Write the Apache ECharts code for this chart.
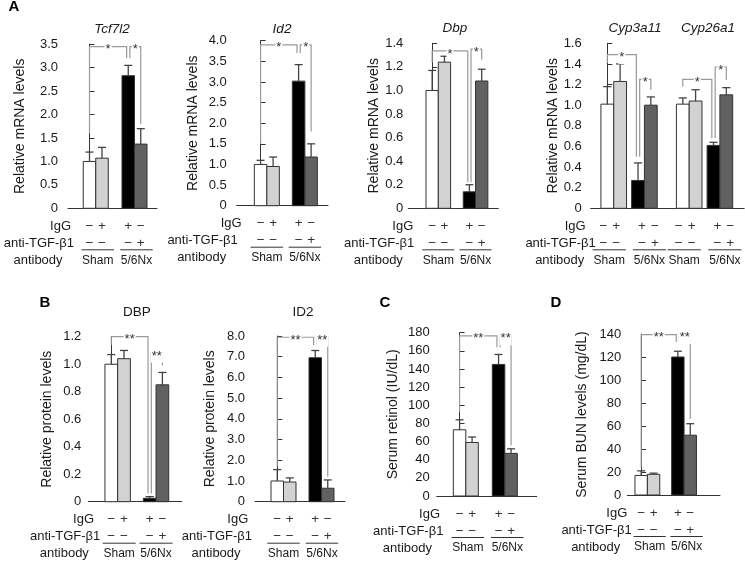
<!DOCTYPE html>
<html><head><meta charset="utf-8">
<script src="https://cdn.jsdelivr.net/npm/echarts@6/dist/echarts.min.js"></script>
<style>html,body{margin:0;padding:0;background:#fff}#c{width:745px;height:562px}</style>
</head><body><div id="c"></div>
<script>
const FONT = '"Liberation Sans", Arial, Helvetica, sans-serif';

// ---------------- data ----------------
const conditionIgG  = ['\u2212', '+', '+', '\u2212'];
const conditionAnti = ['\u2212', '\u2212', '\u2212', '+'];
const groupNames = ['Sham', '5/6Nx'];

// bracket: [fromBar, toBar, height, leftLegEnd, rightLegEnd, mark]
const tcf7l2Values = [1.00, 1.07, 2.83, 1.37];
const tcf7l2Errors = [0.20, 0.23, 0.22, 0.33];
const tcf7l2Brackets = [[0, 2, 3.45, 1.60, 3.20, '*'], [2, 3, 3.45, 3.20, 1.80, '*']];

const id2Values = [1.00, 0.95, 3.02, 1.18];
const id2Errors = [0.10, 0.23, 0.40, 0.32];
const id2Brackets = [[0, 2, 3.90, 1.50, 3.70, '*'], [2, 3, 3.90, 3.70, 1.80, '*']];

const dbpValues = [1.00, 1.24, 0.14, 1.08];
const dbpErrors = [0.17, 0.05, 0.06, 0.10];
const dbpBrackets = [[0, 2, 1.335, 1.24, 0.22, '*'], [2, 3, 1.35, 0.22, 1.26, '*']];

const cyp3a11Values = [1.01, 1.23, 0.27, 1.00];
const cyp3a11Errors = [0.17, 0.17, 0.17, 0.08];
const cyp3a11Brackets = [[0, 2, 1.49, 1.41, 0.50, '*'], [2, 3, 1.25, 0.50, 1.15, '*']];

const cyp26a1Values = [1.01, 1.04, 0.61, 1.10];
const cyp26a1Errors = [0.06, 0.11, 0.03, 0.07];
const cyp26a1Brackets = [[0, 2, 1.25, 1.18, 0.68, '*'], [2, 3, 1.37, 0.68, 1.245, '*']];

const dbpProteinValues = [1.00, 1.04, 0.025, 0.85];
const dbpProteinErrors = [0.07, 0.06, 0.012, 0.09];
const dbpProteinBrackets = [[0, 2, 1.20, 1.14, 0.06, '**'], [2, 3, 1.08, 0.06, 0.99, '**']];

const id2ProteinValues = [1.00, 0.95, 6.95, 0.65];
const id2ProteinErrors = [0.55, 0.20, 0.35, 0.40];
const id2ProteinBrackets = [[0, 2, 7.94, 1.70, 7.55, '**'], [2, 3, 7.94, 7.55, 1.20, '**']];

const retinolValues = [73, 59, 145, 47];
const retinolErrors = [11, 6, 11, 5];
const retinolBrackets = [[0, 2, 176.5, 93, 164, '**'], [2, 3, 176.5, 164, 56, '**']];

const bunValues = [17, 18, 120, 52];
const bunErrors = [4, 1, 5, 10];
const bunBrackets = [[0, 2, 139.5, 24, 133, '**'], [2, 3, 139.5, 133, 66, '**']];

const geneTitles = [
  {text: 'Tcf7l2', x: 112, y: 29, italic: true},
  {text: 'Id2', x: 282, y: 29, italic: true},
  {text: 'Dbp', x: 455, y: 28, italic: true},
  {text: 'Cyp3a11', x: 635, y: 28, italic: true},
  {text: 'Cyp26a1', x: 708, y: 28, italic: true},
  {text: 'DBP', x: 137, y: 312, italic: false},
  {text: 'ID2', x: 303, y: 312, italic: false}
];
const panelLetters = [
  {text: 'A', x: 14, y: 7}, {text: 'B', x: 45, y: 303},
  {text: 'C', x: 385, y: 303}, {text: 'D', x: 556, y: 303}
];

// ---------------- layout ----------------
const BAR_FILLS = ['#ffffff', '#d2d2d2', '#000000', '#616161'];
const mRNA = 'Relative mRNA levels', prot = 'Relative protein levels';
const panels = [
  {values: tcf7l2Values, errors: tcf7l2Errors, brackets: tcf7l2Brackets, yMax: 3.5, yStep: 0.5, dec: 1, yName: mRNA,
   box: [68, 44.3, 89, 164], xRange: [-1.72, 5.4], pair: 3.1, gene: 0, nameGap: 41, labelMargin: 10, igDx: 3, antiDx: 6,
   groupDx: [2, 2], signDx: [0, 0]},
  {values: id2Values, errors: id2Errors, brackets: id2Brackets, yMax: 4, yStep: 0.5, dec: 1, yName: mRNA,
   box: [236.7, 40.7, 91.3, 165], xRange: [-1.91, 5.39], pair: 3.04, gene: 0, nameGap: 36.7, labelMargin: 10, igDx: 5, antiDx: 1,
   groupDx: [0, 0], signDx: [0, 0]},
  {values: dbpValues, errors: dbpErrors, brackets: dbpBrackets, yMax: 1.4, yStep: 0.2, dec: 1, yName: mRNA,
   box: [408.3, 43.3, 90, 165], xRange: [-1.94, 5.38], pair: 3.03, gene: 0, nameGap: 26.3, labelMargin: 5, igDx: 5, antiDx: 6,
   groupDx: [0, 0], signDx: [0, 0]},
  {values: cyp3a11Values.concat(cyp26a1Values), errors: cyp3a11Errors.concat(cyp26a1Errors),
   brackets: cyp3a11Brackets.concat(cyp26a1Brackets.map(b => [b[0] + 4, b[1] + 4, b[2], b[3], b[4], b[5]])),
   yMax: 1.6, yStep: 0.2, dec: 1, yName: mRNA,
   box: [590.7, 43.3, 153.5, 165], xRange: [-1.3, 10.7], pair: 2.4, gene: 5.9, nameGap: 27, labelMargin: 9, igDx: -5, antiDx: 5,
   groupDx: [-4.5, 5, -5, 5], signDx: [-4, 4, -4, 4]},
  {values: dbpProteinValues, errors: dbpProteinErrors, brackets: dbpProteinBrackets, yMax: 1.2, yStep: 0.2, dec: 1, yName: prot,
   box: [88.3, 336.7, 93.4, 165], xRange: [-1.81, 5.54], pair: 3.02, gene: 0, nameGap: 34.3, labelMargin: 7, igDx: 5.7, antiDx: 12,
   groupDx: [1.5, 0], signDx: [0, 0]},
  {values: id2ProteinValues, errors: id2ProteinErrors, brackets: id2ProteinBrackets, yMax: 8, yStep: 1, dec: 1, yName: prot,
   box: [255, 336, 90, 165.7], xRange: [-1.78, 5.42], pair: 3.04, gene: 0, nameGap: 38, labelMargin: 10, igDx: -6.7, antiDx: -3,
   groupDx: [0, 0.5], signDx: [0, 0]},
  {values: retinolValues, errors: retinolErrors, brackets: retinolBrackets, yMax: 180, yStep: 20, dec: 0, yName: 'Serum retinol (IU/dL)',
   box: [436.7, 332.7, 100, 163.3], xRange: [-1.83, 6.17], pair: 3.12, gene: 0, nameGap: 36.7, labelMargin: 7, igDx: 3.3, antiDx: 6.7,
   groupDx: [2, 2.5], signDx: [0, 0]},
  {values: bunValues, errors: bunErrors, brackets: bunBrackets, yMax: 140, yStep: 20, dec: 0, yName: 'Serum BUN levels (mg/dL)',
   box: [627.3, 334, 92.7, 161], xRange: [-1.12, 6.36], pair: 2.96, gene: 0, nameGap: 38.6, labelMargin: 6, igDx: 0, antiDx: 4.4,
   groupDx: [2.3, 2.5], signDx: [0, 0]}
];

const TEXT = '#1a1a1a';
const grids = [], xAxes = [], yAxes = [], series = [];

panels.forEach((p, pi) => {
  const barX = i => Math.floor(i / 4) * p.gene + Math.floor((i % 4) / 2) * p.pair + (i % 2);
  const nGroups = p.values.length / 2;
  grids.push({left: p.box[0], top: p.box[1], width: p.box[2], height: p.box[3], containLabel: false});
  xAxes.push({gridIndex: pi, type: 'value', min: p.xRange[0], max: p.xRange[1],
    axisLine: {show: true, onZero: false, lineStyle: {color: '#333', width: 1}},
    axisTick: {show: false}, axisLabel: {show: false}, splitLine: {show: false}});
  yAxes.push({gridIndex: pi, type: 'value', min: 0, max: p.yMax, interval: p.yStep,
    axisLine: {show: true, lineStyle: {color: '#333', width: 1}},
    axisTick: {show: true, inside: true, length: 5, lineStyle: {color: '#333'}},
    axisLabel: {fontSize: 13, color: TEXT, fontFamily: FONT, margin: p.labelMargin,
      formatter: v => v === 0 ? '0' : v.toFixed(p.dec)},
    splitLine: {show: false},
    name: p.yName, nameLocation: 'middle', nameGap: p.nameGap,
    nameTextStyle: {fontSize: 14, color: TEXT, fontFamily: FONT}});

  // bars with error bars
  series.push({type: 'custom', xAxisIndex: pi, yAxisIndex: pi, silent: true,
    data: p.values.map((v, i) => [barX(i), v, p.errors[i], i % 4]),
    renderItem: (params, api) => {
      const x = api.value(0), v = api.value(1), e = api.value(2), c = api.value(3);
      const top = api.coord([x, v]), base = api.coord([x, 0]), et = api.coord([x, v + e]);
      const w = api.size([1, 0])[0];
      const cap = w * 0.32;
      return {type: 'group', children: [
        {type: 'rect', shape: {x: top[0] - w / 2, y: top[1], width: w, height: base[1] - top[1]},
         style: {fill: BAR_FILLS[c], stroke: '#333', lineWidth: 1}},
        {type: 'line', shape: {x1: top[0], y1: top[1], x2: et[0], y2: et[1]}, style: {stroke: '#444', lineWidth: 1.3}},
        {type: 'line', shape: {x1: et[0] - cap, y1: et[1], x2: et[0] + cap, y2: et[1]}, style: {stroke: '#444', lineWidth: 1.3}}
      ]};
    }});

  // significance brackets
  series.push({type: 'custom', xAxisIndex: pi, yAxisIndex: pi, silent: true, z: 3,
    data: p.brackets.map(b => [barX(b[0]), barX(b[1]), b[2], b[3], b[4]]),
    renderItem: (params, api) => {
      const b = p.brackets[params.dataIndex];
      const shared = idx => p.brackets.some((o, j) => j !== params.dataIndex && (o[0] === idx || o[1] === idx));
      const xl = api.value(0) + (shared(b[0]) ? 0.13 : 0);
      const xr = api.value(1) - (shared(b[1]) ? 0.13 : 0);
      const h = api.value(2);
      const p1 = api.coord([xl, api.value(3)]), p2 = api.coord([xl, h]);
      const p3 = api.coord([xr, h]), p4 = api.coord([xr, api.value(4)]);
      return {type: 'group', children: [
        {type: 'polyline', shape: {points: [p1, p2, p3, p4]}, style: {stroke: '#9a9a9a', lineWidth: 1.2, fill: null}},
        {type: 'text', x: (p2[0] + p3[0]) / 2, y: p2[1] + 3,
         style: {text: b[5], fill: '#333', fontSize: 13, fontFamily: FONT, align: 'center', verticalAlign: 'middle',
                 backgroundColor: '#fff', padding: [0, 1, 0, 1]}}
      ]};
    }});

  // +/- signs under each bar
  series.push({type: 'custom', xAxisIndex: pi, yAxisIndex: pi, silent: true,
    data: p.values.map((v, i) => [barX(i), 0]),
    renderItem: (params, api) => {
      const i = params.dataIndex % 4;
      const g = Math.floor(params.dataIndex / 2);
      const base = api.coord([api.value(0), 0]);
      const sx = base[0] + p.signDx[g];
      const st = t => ({text: t, fill: '#333', fontSize: 13.5, fontFamily: FONT, align: 'center', verticalAlign: 'middle'});
      return {type: 'group', children: [
        {type: 'text', x: sx, y: base[1] + 18, style: st(conditionIgG[i])},
        {type: 'text', x: sx, y: base[1] + 35, style: st(conditionAnti[i])}
      ]};
    }});

  // group underlines + names
  series.push({type: 'custom', xAxisIndex: pi, yAxisIndex: pi, silent: true,
    data: Array.from({length: nGroups}, (_, g) => [barX(g * 2) + 0.5, 0]),
    renderItem: (params, api) => {
      const c0 = api.coord([api.value(0), 0]);
      const cx = c0[0] + p.groupDx[params.dataIndex];
      const w = api.size([1, 0])[0];
      return {type: 'group', children: [
        {type: 'line', shape: {x1: cx - 1.3 * w, y1: c0[1] + 41.5, x2: cx + 1.3 * w, y2: c0[1] + 41.5},
         style: {stroke: '#333', lineWidth: 1}},
        {type: 'text', x: cx, y: c0[1] + 52,
         style: {text: groupNames[params.dataIndex % 2], fill: TEXT, fontSize: 12, fontFamily: FONT, align: 'center', verticalAlign: 'middle'}}
      ]};
    }});

  // row labels
  series.push({type: 'custom', xAxisIndex: pi, yAxisIndex: pi, silent: true,
    data: [[p.xRange[0], 0]],
    renderItem: (params, api) => {
      const o = api.coord([api.value(0), 0]);
      const st = (t, a) => ({text: t, fill: TEXT, fontSize: 13, fontFamily: FONT, align: a, verticalAlign: 'middle'});
      return {type: 'group', children: [
        {type: 'text', x: o[0] + p.igDx, y: o[1] + 18, style: st('IgG', 'right')},
        {type: 'text', x: o[0] + p.antiDx, y: o[1] + 35, style: st('anti-TGF-\u03b21', 'right')},
        {type: 'text', x: o[0] + p.antiDx - 36, y: o[1] + 52, style: st('antibody', 'center')}
      ]};
    }});
});

const graphics = [];
geneTitles.forEach(t => graphics.push({type: 'text', x: t.x, y: t.y, silent: true,
  style: {text: t.text, fill: TEXT, fontSize: 13.5, fontStyle: t.italic ? 'italic' : 'normal', fontFamily: FONT, align: 'center', verticalAlign: 'middle'}}));
panelLetters.forEach(t => graphics.push({type: 'text', x: t.x, y: t.y, silent: true,
  style: {text: t.text, fill: '#000', fontSize: 15, fontWeight: 'bold', fontFamily: FONT, align: 'center', verticalAlign: 'middle'}}));

const chart = echarts.init(document.getElementById('c'), null, {renderer: 'canvas'});
chart.setOption({
  animation: false,
  backgroundColor: '#fff',
  textStyle: {fontFamily: FONT},
  grid: grids, xAxis: xAxes, yAxis: yAxes, series: series, graphic: graphics
});
</script>
</body></html>
